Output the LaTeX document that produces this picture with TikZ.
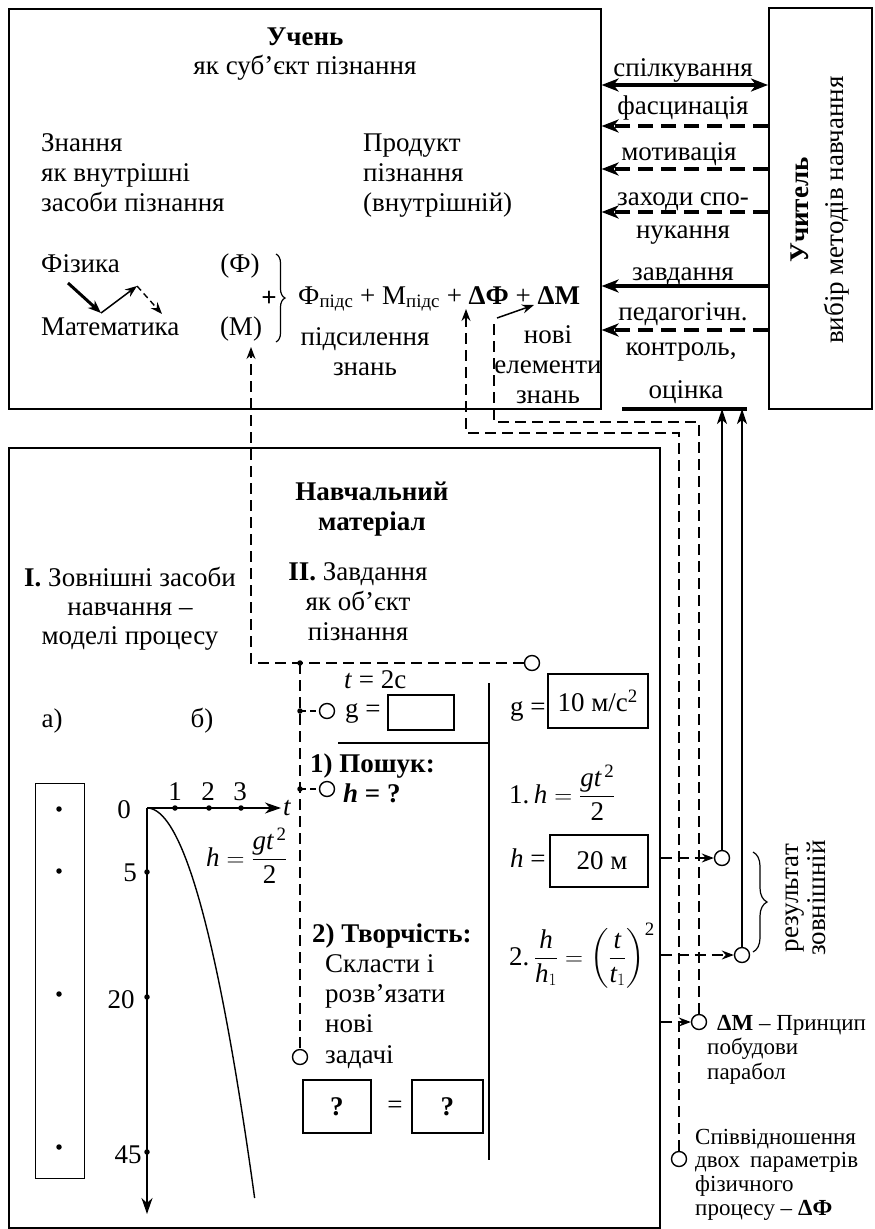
\documentclass[tikz,border=0pt]{standalone}
\usepackage{amsmath}
\usepackage{fontspec}
\setmainfont{Liberation Serif}
\usetikzlibrary{arrows.meta,decorations.pathreplacing}
\newcommand{\fs}{\fontsize{27}{30}\selectfont}
\newcommand{\fsm}{\fontsize{23}{24}\selectfont}
\newcommand{\vh}{\textit{h}}
\newcommand{\vt}{\textit{t}}
\newcommand{\tw}{\textup{2}}
\begin{document}
\begin{tikzpicture}[x=1pt,y=-1pt,
  txt/.style={inner sep=0pt,font=\fs},
  btxt/.style={inner sep=0pt,font=\fs\bfseries},
  stxt/.style={inner sep=0pt,font=\fsm},
  bx/.style={draw,line width=1.6pt,inner sep=0pt},
  arrtip/.style={-{Stealth[length=12pt,width=9pt,inset=4pt]}},
  bigarr/.style={-{Stealth[length=17pt,width=13pt,inset=5pt]}},
  thickdash/.style={line width=3.2pt,dash pattern=on 15pt off 8pt},
  thindash/.style={line width=1.3pt,dash pattern=on 11pt off 6pt},
  ring/.style={circle,draw,line width=1.4pt,fill=white,minimum size=15pt,inner sep=0pt},
  mydot/.style={circle,fill,minimum size=5.5pt,inner sep=0pt},
]
\useasboundingbox (0,0) rectangle (875,1229);
\fill[white] (0,0) rectangle (875,1229);

% ---------- boxes
\node[bx,anchor=north west,minimum width=592pt,minimum height=400pt] (top) at (8,8) {};
\node[bx,anchor=north west,minimum width=103pt,minimum height=401pt] (teacher) at (768,7) {};
\node[bx,anchor=north west,minimum width=651pt,minimum height=780pt] (bot) at (8,447) {};

% ---------- top box texts
\node[btxt,anchor=base] (uch) at (305,45) {Учень};
\node[txt,anchor=base] (subj) at (305,74) {як суб’єкт пізнання};
\node[txt,anchor=base west] (zn1) at (41,151) {Знання};
\node[txt,anchor=base west] (zn2) at (41,181) {як внутрішні};
\node[txt,anchor=base west] (zn3) at (41,211) {засоби пізнання};
\node[txt,anchor=base west] (pr1) at (363,151) {Продукт};
\node[txt,anchor=base west] (pr2) at (363,181) {пізнання};
\node[txt,anchor=base west] (pr3) at (363,211) {(внутрішній)};
\node[txt,anchor=base west] (fiz) at (41,272) {Фізика};
\node[txt,anchor=base west] (mat) at (41,335) {Математика};
\node[txt,anchor=base] (F) at (240,272) {(Ф)};
\node[txt,anchor=base] (M) at (241,335) {(М)};
\coordinate (ar1) at (68,283);
\coordinate (ar2) at (101,313);
\coordinate (ar3) at (137,286);
\coordinate (ar4) at (162,314);
\draw[line width=3pt,-{Stealth[length=13pt,width=10pt,inset=4pt]}] (ar1) -- (ar2);
\draw[line width=1.5pt,arrtip] (ar2) -- (ar3);
\draw[line width=1.4pt,dash pattern=on 6pt off 4pt,arrtip] (ar3) -- (ar4);
\draw[line width=1.2pt,decorate,decoration={brace,amplitude=9pt}] (276,254) -- (276,342);
\node[btxt] (plus) at (269,299) {+};
\node[txt,anchor=base west] (form) at (298,304) {Ф\textsubscript{підс} + М\textsubscript{підс} + \textbf{ΔФ} + \textbf{ΔМ}};
\node[txt,anchor=base] (ps1) at (365,345) {підсилення};
\node[txt,anchor=base] (ps2) at (365,375) {знань};
\node[txt,anchor=base] (ne1) at (548,343) {нові};
\node[txt,anchor=base] (ne2) at (548,373) {елементи};
\node[txt,anchor=base] (ne3) at (548,403) {знань};
\coordinate (dMs) at (497,318);
\coordinate (dMe) at (534,305);
\draw[line width=1.5pt,arrtip] (dMs) -- (dMe);

% ---------- teacher arrows
\coordinate (y1) at (0,85);
\coordinate (y2) at (0,126);
\coordinate (y3) at (0,169);
\coordinate (y4) at (0,212);
\coordinate (y5) at (0,286);
\coordinate (y6) at (0,330);
\draw[line width=3.2pt,{Stealth[length=17pt,width=13pt,inset=5pt]}-{Stealth[length=17pt,width=13pt,inset=5pt]}] (top.east |- y1) -- (teacher.west |- y1);
\draw[thickdash,bigarr] (teacher.west |- y2) -- (top.east |- y2);
\draw[thickdash,bigarr] (teacher.west |- y3) -- (top.east |- y3);
\draw[thickdash,bigarr] (teacher.west |- y4) -- (top.east |- y4);
\draw[line width=3.2pt,bigarr] (teacher.west |- y5) -- (top.east |- y5);
\draw[thickdash,bigarr] (teacher.west |- y6) -- (top.east |- y6);
\node[txt,anchor=base] (l1) at (683,76) {спілкування};
\node[txt,anchor=base] (l2) at (683,114) {фасцинація};
\node[txt,anchor=base] (l3) at (679,160) {мотивація};
\node[txt,anchor=base] (l4) at (683,205) {заходи спо-};
\node[txt,anchor=base] (l5) at (683,238) {нукання};
\node[txt,anchor=base] (l6) at (683,280) {завдання};
\node[txt,anchor=base] (l7) at (683,320) {педагогічн.};
\node[txt,anchor=base] (l8) at (681,355) {контроль,};
\node[txt,anchor=base] (l9) at (686,398) {оцінка};
\node[inner sep=0pt,rotate=90,align=center,font=\fontsize{27}{35}\selectfont] (tlab) at (820,210) {\textbf{Учитель}\\вибір методів навчання};
\coordinate (oc1) at (622,409);
\coordinate (oc2) at (747,409);
\draw[line width=4pt] (oc1) -- (oc2);

% ---------- bottom box texts
\node[btxt,anchor=base] (nm1) at (372,500) {Навчальний};
\node[btxt,anchor=base] (nm2) at (372,530) {матеріал};
\node[txt,anchor=base] (z1) at (130,586) {\textbf{I.} Зовнішні засоби};
\node[txt,anchor=base] (z2) at (130,615) {навчання –};
\node[txt,anchor=base] (z3) at (130,644) {моделі процесу};
\node[txt,anchor=base] (o1) at (358,580) {\textbf{II.} Завдання};
\node[txt,anchor=base] (o2) at (358,610) {як об’єкт};
\node[txt,anchor=base] (o3) at (358,640) {пізнання};
\node[txt,anchor=base] (la) at (52,727) {а)};
\node[txt,anchor=base] (lb) at (202,727) {б)};

% ---------- model a)
\node[draw,line width=1.4pt,inner sep=0pt,anchor=north west,minimum width=49pt,minimum height=395pt] (tube) at (35,783) {};
\node[mydot] (p1) at (59,809) {};
\node[mydot] (p2) at (59,871) {};
\node[mydot] (p3) at (59,994) {};
\node[mydot] (p4) at (59,1147) {};

% ---------- graph b)
\coordinate (O) at (147,808);
\coordinate (tend) at (281,808);
\coordinate (hend) at (147,1214);
\draw[line width=1.6pt,-{Stealth[length=16pt,width=11pt,inset=5pt]}] (O) -- (tend);
\draw[line width=1.6pt,-{Stealth[length=16pt,width=11pt,inset=5pt]}] (O) -- (hend);
\node[mydot] (t1) at (175,808) {};
\node[mydot] (t2) at (209,808) {};
\node[mydot] (t3) at (241,808) {};
\node[mydot] (h1) at (147,872) {};
\node[mydot] (h2) at (147,997) {};
\node[mydot] (h3) at (147,1152) {};
\node[txt,anchor=base] (n0) at (124,818) {0};
\node[txt,anchor=base] (n1) at (175,800) {1};
\node[txt,anchor=base] (n2) at (208,800) {2};
\node[txt,anchor=base] (n3) at (240,800) {3};
\node[txt,anchor=base west] (tl) at (283,815) {\vt};
\node[txt,anchor=base] (n5) at (130,881) {5};
\node[txt,anchor=base] (n20) at (121,1008) {20};
\node[txt,anchor=base] (n45) at (128,1163) {45};
\draw[line width=1.4pt] plot[domain=0:19.75,samples=60] ({147+5.45*\x},{808+\x*\x});
\node[txt,anchor=base west] (hf) at (206,866) {$\vh=\dfrac{\textit{gt}^{\,\tw}}{\tw}$};

% ---------- task column
\node[mydot] (J1) at (300,663) {};
\node[mydot] (J2) at (300,711) {};
\node[mydot] (J3) at (300,789) {};
\node[ring] (C1) at (532,663) {};
\node[ring] (C2) at (327,711) {};
\node[ring] (C3) at (327,789) {};
\node[ring] (C4) at (300,1057) {};
\coordinate (jm) at (251,663);
\coordinate (mtip) at (251,347);
\draw[thindash,arrtip] (C1) -- (J1.center) -- (jm) -- (mtip);
\draw[thindash] (J1.center) -- (C4);
\draw[thindash,dash pattern=on 6pt off 4pt] (J2.center) -- (C2);
\draw[line width=1.3pt,dash pattern=on 6pt off 4pt] (J3.center) -- (C3);
\node[txt,anchor=base west] (tt) at (344,688) {\vt\ = 2с};
\node[txt,anchor=base west] (g1) at (345,717) {g =};
\node[bx,line width=1.5pt,anchor=north west,minimum width=66pt,minimum height=35pt] (G1) at (387,694) {};
\coordinate (hl1) at (338,743);
\coordinate (hl2) at (489,743);
\draw[line width=1.4pt] (hl1) -- (hl2);
\coordinate (vl1) at (489,683);
\coordinate (vl2) at (489,1160);
\draw[line width=1.4pt] (vl1) -- (vl2);
\node[btxt,anchor=base west] (s1) at (310,772) {1) Пошук:};
\node[btxt,anchor=base west] (s2) at (343,802) {\textit{h} = ?};
\node[btxt,anchor=base west] (c0) at (312,942) {2) Творчість:};
\node[txt,anchor=base west] (c1) at (325,972) {Скласти і};
\node[txt,anchor=base west] (c2) at (325,1002) {розв’язати};
\node[txt,anchor=base west] (c3) at (325,1032) {нові};
\node[txt,anchor=base west] (c4) at (325,1063) {задачі};
\node[bx,line width=1.5pt,anchor=north west,minimum width=68pt,minimum height=53pt,font=\fs\bfseries] (Q1) at (302,1079) {?};
\node[bx,line width=1.5pt,anchor=north west,minimum width=71pt,minimum height=53pt,font=\fs\bfseries] (Q2) at (411,1079) {?};
\node[txt] (eq) at (395,1107) {=};

% ---------- solution column
\node[txt,anchor=base west] (g2) at (510,715) {g =};
\node[bx,line width=1.5pt,anchor=north west,minimum width=100pt,minimum height=54pt,font=\fs] (G2) at (547,673) {10 м/с\textsuperscript{2}};
\node[txt,anchor=base west] (f1) at (509,803) {1.\,$\vh=\dfrac{\textit{gt}^{\,\tw}}{\tw}$};
\node[txt,anchor=base west] (hh) at (510,867) {\vh\ =};
\node[bx,line width=1.5pt,anchor=north west,minimum width=98pt,minimum height=52pt,font=\fs] (H2) at (549,834) {\ 20 м};
\node[txt,anchor=base west] (f2) at (509,965) {2.\,$\dfrac{\vh}{\vh_{1}}=\left(\dfrac{\vt}{\vt_{1}}\right)^{\tw}$};

% ---------- results outside
\node[ring] (C5) at (722,858) {};
\node[ring] (C6) at (742,955) {};
\node[ring] (C7) at (699,1022) {};
\node[ring] (C8) at (679,1159) {};
\draw[thindash,arrtip] (bot.east |- C5) -- (C5);
\draw[thindash,arrtip] (bot.east |- C6) -- (C6);
\draw[thindash,arrtip] (bot.east |- C7) -- (C7);
\draw[line width=1.5pt,-{Stealth[length=15pt,width=10pt,inset=4pt]}] (C5) -- (C5 |- oc1);
\draw[line width=1.5pt,-{Stealth[length=15pt,width=10pt,inset=4pt]}] (C6) -- (C6 |- oc1);
\coordinate (dfa) at (679,433);
\coordinate (dfb) at (466,433);
\coordinate (dftip) at (466,309);
\draw[thindash,arrtip] (C8) -- (dfa) -- (dfb) -- (dftip);
\coordinate (dma) at (699,422);
\coordinate (dmb) at (494,422);
\coordinate (dmtop) at (494,318);
\draw[thindash] (C7) -- (dma) -- (dmb) -- (dmtop);
\draw[line width=1.2pt,decorate,decoration={brace,amplitude=14pt}] (753,852) -- (753,952);
\node[inner sep=0pt,rotate=90,align=center,font=\fontsize{27}{27}\selectfont] (res) at (806,898) {результат\\зовнішній};
\node[stxt,anchor=base west] (dm1) at (717,1030) {\textbf{ΔМ} – Принцип};
\node[stxt,anchor=base west] (dm2) at (707,1054) {побудови};
\node[stxt,anchor=base west] (dm3) at (707,1079) {парабол};
\node[stxt,anchor=base west] (df1) at (695,1144) {Співвідношення};
\node[stxt,anchor=base west] (df2) at (695,1167) {двох\hspace{10pt}параметрів};
\node[stxt,anchor=base west] (df3) at (695,1191) {фізичного};
\node[stxt,anchor=base west] (df4) at (695,1215) {процесу – \textbf{ΔФ}};
\end{tikzpicture}
\end{document}
